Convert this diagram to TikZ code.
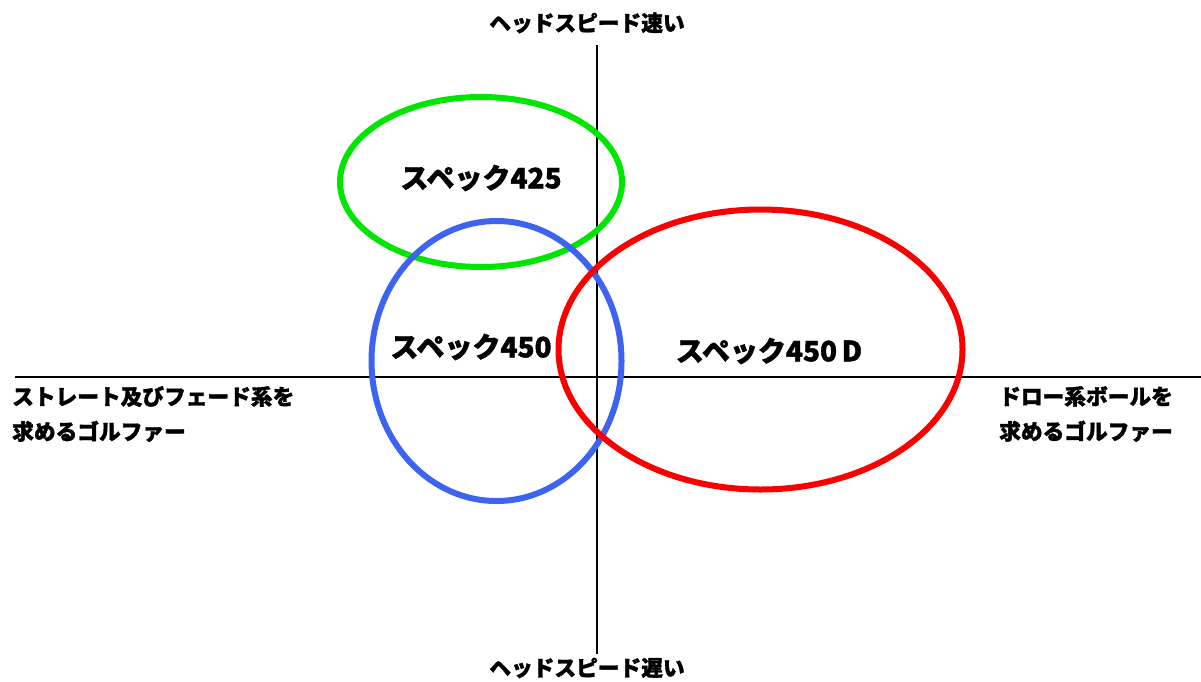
\documentclass[tikz,border=0pt]{standalone}
\usepackage{fontspec}
\newfontfamily\jp[FakeBold=1.5]{Noto Sans CJK JP Black}
\begin{document}
\begin{tikzpicture}[x=1pt,y=-1pt,
  axis/.style={line width=2pt,black},
  oval/.style={line width=6pt},
  axlabel/.style={font=\jp\fontsize{21.7}{35}\selectfont,inner sep=0pt},
  speclabel/.style={font=\jp\fontsize{28}{30}\selectfont,inner sep=0pt}]
\path[use as bounding box,fill=white] (0,0) rectangle (1201,681);
\coordinate (vt) at (596.5,45);
\coordinate (vb) at (596.5,654);
\coordinate (hl) at (15,377);
\coordinate (hr) at (1201,377);
\draw[axis] (vt) -- (vb);
\draw[axis] (hl) -- (hr);
\draw[oval,color={rgb,255:red,0;green,230;blue,0}] (481,182) ellipse [x radius=141,y radius=85];
\draw[oval,color={rgb,255:red,60;green,100;blue,240}] (496.5,361) ellipse [x radius=125,y radius=140];
\draw[oval,color={rgb,255:red,250;green,0;blue,0}] (760.5,349.5) ellipse [x radius=202,y radius=140];
\node[speclabel] (s425) at (481,178) {スペック425};
\node[speclabel] (s450) at (471,347) {スペック450};
\node[speclabel] (s450d) at (769,351) {スペック450\,D};
\node[axlabel] (top) at (587,23) {ヘッドスピード速い};
\node[axlabel] (bot) at (587,668) {ヘッドスピード遅い};
\node[axlabel,anchor=north west,align=left] (left) at (12,386) {ストレート及びフェード系を\\求めるゴルファー};
\node[axlabel,anchor=north west,align=left] (right) at (999,386) {ドロー系ボールを\\求めるゴルファー};
\end{tikzpicture}
\end{document}
